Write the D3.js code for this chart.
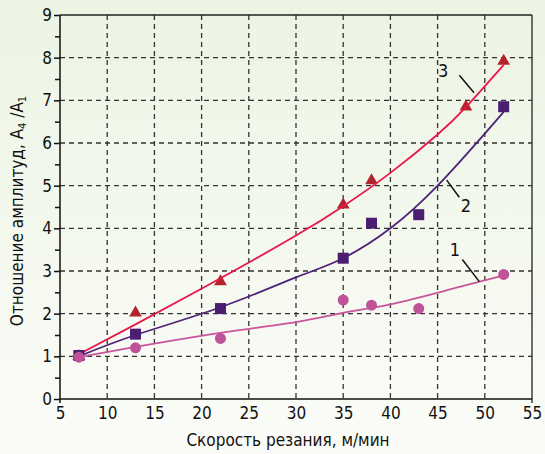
<!DOCTYPE html>
<html><head><meta charset="utf-8">
<script src="https://cdn.jsdelivr.net/npm/d3@7"></script>
<style>html,body{margin:0;padding:0;}svg{display:block;}</style>
</head><body>
<script>
// ---- data ----
const xTicks = [5,10,15,20,25,30,35,40,45,50,55];
const yTicks = [0,1,2,3,4,5,6,7,8,9];
// measured points
const triX = [7,13,22,35,38,48,52];
const triY = [1.0,2.02,2.75,4.55,5.12,6.85,7.92];
const sqX = [7,13,22,35,38,43,52];
const sqY = [1.02,1.52,2.12,3.3,4.12,4.32,6.85];
const cirX = [7,13,22,35,38,43,52];
const cirY = [0.98,1.2,1.42,2.32,2.2,2.12,2.92];
// fitted curves
const fit3X = [7,13,22,30,35,40,45,48,52];
const fit3Y = [1.05,1.75,2.83,3.83,4.52,5.3,6.2,6.84,7.83];
const fit2X = [7,13,22,30,35,40,45,50,52];
const fit2Y = [1.0,1.5,2.15,2.85,3.3,4.0,5.0,6.22,6.73];
const fit1X = [7,13,22,30,35,40,46,52];
const fit1Y = [0.98,1.22,1.55,1.8,2.02,2.22,2.55,2.9];
// curve labels
const labelText = ["3","2","1"];
const labelPos = [[45.6,7.55],[48.0,4.39],[46.84,3.35]];
const leaders = [[47.3,7.59,48.86,7.18],[45.96,5.13,47.3,4.73],[47.62,3.27,49.42,2.75]];

const W=545,H=454;
const svg=d3.select("body").append("svg").attr("width",W).attr("height",H);
const defs=svg.append("defs");
const g0=defs.append("linearGradient").attr("id","bg").attr("x1",0).attr("y1",0).attr("x2",0).attr("y2",1);
g0.append("stop").attr("offset","0%").attr("stop-color","#ecf4e3");
g0.append("stop").attr("offset","100%").attr("stop-color","#fbfcf8");
svg.append("rect").attr("width",W).attr("height",H).attr("fill","url(#bg)");

const x=d3.scaleLinear().domain([5,55]).range([60,532]);
const y=d3.scaleLinear().domain([0,9]).range([399,15]);
const font="'DejaVu Sans Condensed','DejaVu Sans',sans-serif";
const fs=17;

// grid
const grid=svg.append("g").attr("stroke","#333").attr("stroke-width",1.3).attr("stroke-dasharray","5,4");
xTicks.filter(v=>v>5&&v<55).forEach(v=>grid.append("line").attr("x1",x(v)).attr("x2",x(v)).attr("y1",y(9)).attr("y2",y(0)));
yTicks.filter(v=>v>0&&v<9).forEach(v=>grid.append("line").attr("x1",x(5)).attr("x2",x(55)).attr("y1",y(v)).attr("y2",y(v)));

// frame top/right
svg.append("line").attr("x1",x(5)).attr("x2",x(55)).attr("y1",y(9)).attr("y2",y(9)).attr("stroke","#222").attr("stroke-width",1.3);
svg.append("line").attr("x1",x(55)).attr("x2",x(55)).attr("y1",y(9)).attr("y2",y(0)+4).attr("stroke","#222").attr("stroke-width",1.3);

// axes
const yAxis=d3.axisLeft(y).tickValues(yTicks).tickSize(6).tickPadding(2);
const ya=svg.append("g").attr("transform",`translate(${x(5)},0)`).call(yAxis);
const yMinor=d3.axisLeft(y).tickValues(d3.range(0.5,9,1)).tickSize(5).tickFormat("");
const ym=svg.append("g").attr("transform",`translate(${x(5)},0)`).call(yMinor);
ym.select(".domain").remove();
const xAxis=d3.axisBottom(x).tickValues(xTicks).tickSize(0).tickPadding(8);
const xa=svg.append("g").attr("transform",`translate(0,${y(0)})`).call(xAxis);
[ya,ym,xa].forEach(a=>{a.selectAll("line,path").attr("stroke","#111").attr("stroke-width",1.5);
 a.selectAll("text").attr("font-family",font).attr("font-size",fs).attr("fill","#111");});
ya.select(".domain").attr("d",`M-0,${y(9)}V${y(0)+4}`);
xa.select(".domain").attr("d",`M${x(5)},0H${x(55)}`);

// titles
svg.append("text").attr("x",288).attr("y",446).attr("text-anchor","middle")
 .attr("font-family",font).attr("font-size",fs).attr("fill","#111").text("Скорость резания, м/мин");
const yt=svg.append("text").attr("transform",`translate(23,${(y(0)+y(9))/2+4}) rotate(-90)`).attr("text-anchor","middle")
 .attr("font-family",font).attr("font-size",fs).attr("fill","#111");
yt.append("tspan").text("Отношение амплитуд, А");
yt.append("tspan").attr("font-size",11).attr("dy",3).text("4");
yt.append("tspan").attr("dy",-3).text(" /А");
yt.append("tspan").attr("font-size",11).attr("dy",3).text("1");

const line=d3.line().x(d=>x(d[0])).y(d=>y(d[1])).curve(d3.curveNatural);
const z=(a,b)=>a.map((v,i)=>[v,b[i]]);

// markers triangles
const tri=d3.symbol().type(d3.symbolTriangle).size(70);
svg.append("g").selectAll("path").data(z(triX,triY)).join("path")
 .attr("d",tri).attr("transform",d=>`translate(${x(d[0])},${y(d[1])})`).attr("fill","#b3232c");
// lines
svg.append("path").attr("d",line(z(fit3X,fit3Y))).attr("fill","none").attr("stroke","#e8174a").attr("stroke-width",1.8);
svg.append("path").attr("d",line(z(fit2X,fit2Y))).attr("fill","none").attr("stroke","#4e2479").attr("stroke-width",1.8);
// squares
svg.append("g").selectAll("rect").data(z(sqX,sqY)).join("rect")
 .attr("x",d=>x(d[0])-5.5).attr("y",d=>y(d[1])-5.5).attr("width",11).attr("height",11).attr("fill","#4c1e6f");
svg.append("path").attr("d",line(z(fit1X,fit1Y))).attr("fill","none").attr("stroke","#c9559b").attr("stroke-width",1.8);
// circles
svg.append("g").selectAll("circle").data(z(cirX,cirY)).join("circle")
 .attr("cx",d=>x(d[0])).attr("cy",d=>y(d[1])).attr("r",5.5).attr("fill","#c0529a");

// labels
labelText.forEach((t,i)=>{
 svg.append("text").attr("x",x(labelPos[i][0])).attr("y",y(labelPos[i][1])).attr("text-anchor","middle")
  .attr("font-family",font).attr("font-size",18).attr("fill","#111").text(t);
 const L=leaders[i];
 svg.append("line").attr("x1",x(L[0])).attr("y1",y(L[1])).attr("x2",x(L[2])).attr("y2",y(L[3])).attr("stroke","#111").attr("stroke-width",1.5);
});
</script>
</body></html>
